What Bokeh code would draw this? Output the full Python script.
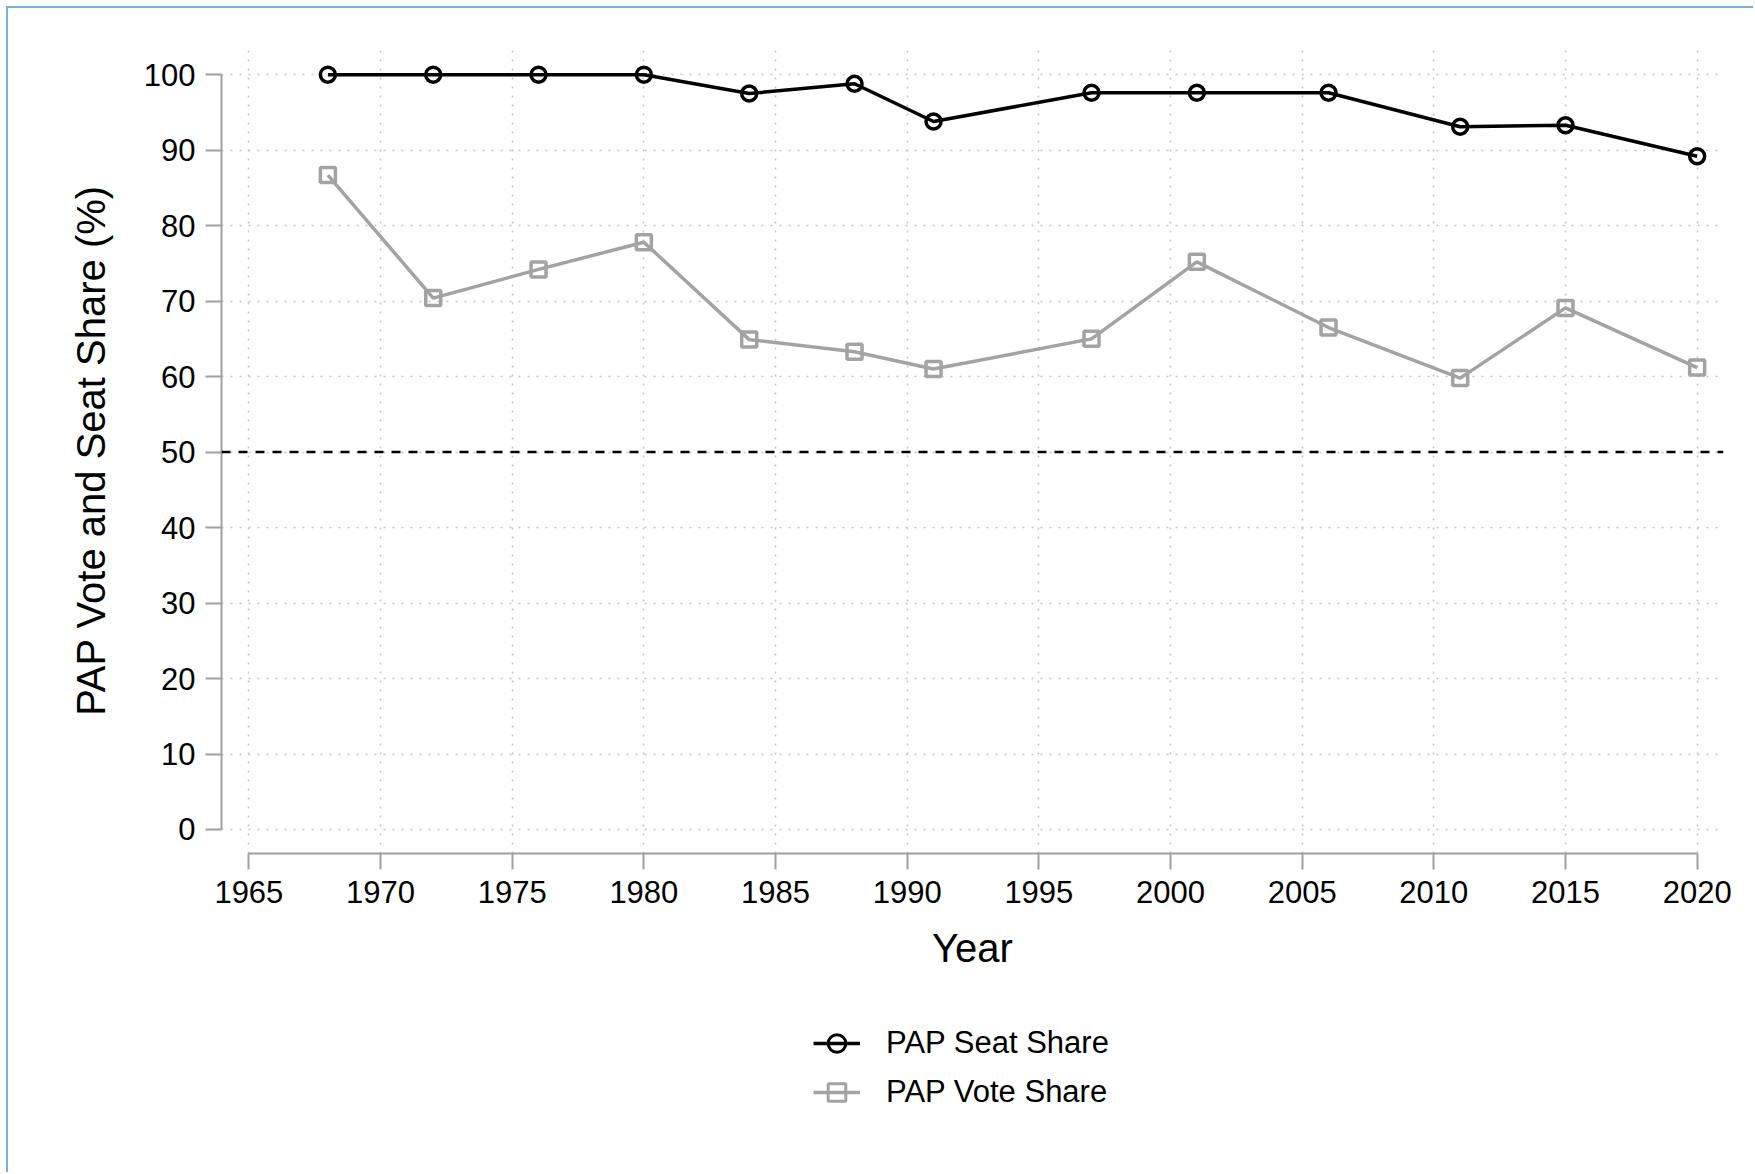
from bokeh.plotting import figure
from bokeh.layouts import column
from bokeh.models import Span, Legend, LegendItem, FixedTicker, Range1d
from bokeh.embed import file_html
from bokeh.resources import INLINE

# ---- data ----
years = [1968, 1972, 1976, 1980, 1984, 1988, 1991, 1997, 2001, 2006, 2011, 2015, 2020]
seat_share = [100, 100, 100, 100, 97.5, 98.8, 93.8, 97.6, 97.6, 97.6, 93.1, 93.3, 89.2]
vote_share = [86.7, 70.4, 74.2, 77.8, 64.9, 63.3, 61.0, 65.0, 75.2, 66.5, 59.8, 69.1, 61.2]
x_ticks = [1965, 1970, 1975, 1980, 1985, 1990, 1995, 2000, 2005, 2010, 2015, 2020]
y_ticks = [0, 10, 20, 30, 40, 50, 60, 70, 80, 90, 100]
majority_line = 50
series_names = ["PAP Seat Share", "PAP Vote Share"]

FONT = "Liberation Sans"
GREY_AXIS = "#a0a0a0"
SEAT_COLOR = "#000000"
VOTE_COLOR = "#a3a3a3"
LW = 3.5
MSIZE = 15

p = figure(
    width=1747, height=985,
    output_backend="svg", toolbar_location=None,
    x_range=Range1d(1963.96, 2021.0), y_range=Range1d(-3.18, 103.6),
    min_border_left=213, min_border_right=32, min_border_top=39, min_border_bottom=140,
)
p.outline_line_color = None
p.background_fill_color = "white"
p.border_fill_color = "white"

# grids
for g in (p.xgrid, p.ygrid):
    g.grid_line_color = "#c4c4c4"
    g.grid_line_dash = "2 7"
    g.grid_line_width = 1.5

# axes
p.xaxis.ticker = FixedTicker(ticks=x_ticks)
p.yaxis.ticker = FixedTicker(ticks=y_ticks)
p.xaxis.bounds = (x_ticks[0], x_ticks[-1])
p.yaxis.bounds = (y_ticks[0], y_ticks[-1])
for ax in (p.xaxis, p.yaxis):
    ax.axis_line_color = GREY_AXIS
    ax.axis_line_width = 2
    ax.major_tick_line_color = GREY_AXIS
    ax.major_tick_line_width = 2
    ax.major_tick_in = 0
    ax.major_tick_out = 16
    ax.minor_tick_line_color = None
    ax.major_label_text_font = FONT
    ax.major_label_text_font_size = "31px"
    ax.major_label_text_color = "black"
    ax.axis_label_text_font = FONT
    ax.axis_label_text_font_size = "40px"
    ax.axis_label_text_font_style = "normal"
    ax.axis_label_text_color = "black"
p.xaxis.axis_label = "Year"
p.yaxis.axis_label = "PAP Vote and Seat Share (%)"
p.xaxis.major_label_standoff = 11
p.yaxis.major_label_standoff = 10
p.xaxis.axis_label_standoff = 20
p.yaxis.axis_label_standoff = 28

# reference line at 50%
p.add_layout(Span(location=majority_line, dimension="width", line_color="black",
                  line_width=2.5, line_dash="9 8"))

# series
p.line(years, seat_share, line_color=SEAT_COLOR, line_width=LW)
p.scatter(years, seat_share, marker="circle", size=MSIZE, fill_color=None,
          line_color=SEAT_COLOR, line_width=LW)
p.line(years, vote_share, line_color=VOTE_COLOR, line_width=LW)
p.scatter(years, vote_share, marker="square", size=MSIZE, fill_color=None,
          line_color=VOTE_COLOR, line_width=LW)

# ---- legend strip below the chart (its renderers lie outside its view) ----
leg = figure(
    width=1747, height=181, output_backend="svg", toolbar_location=None,
    x_range=Range1d(0, 1), y_range=Range1d(0, 1),
    x_axis_location=None, y_axis_location=None,
    min_border_left=0, min_border_right=0, min_border_top=0, min_border_bottom=0,
)
leg.outline_line_color = None
leg.xgrid.visible = False
leg.ygrid.visible = False
leg.border_fill_color = "white"
k_seat_line = leg.line(years, seat_share, line_color=SEAT_COLOR, line_width=LW)
k_seat_pts = leg.scatter(years, seat_share, marker="circle", size=MSIZE, fill_color=None,
                         line_color=SEAT_COLOR, line_width=3)
k_vote_line = leg.line(years, vote_share, line_color=VOTE_COLOR, line_width=LW)
k_vote_pts = leg.scatter(years, vote_share, marker="square", size=MSIZE, fill_color=None,
                         line_color=VOTE_COLOR, line_width=3)

legend = Legend(
    items=[LegendItem(label=series_names[0], renderers=[k_seat_line, k_seat_pts]),
           LegendItem(label=series_names[1], renderers=[k_vote_line, k_vote_pts])],
    location=(592, 60), orientation="vertical",
    label_text_font=FONT, label_text_font_size="31px", label_text_color="black",
    glyph_width=47, glyph_height=44, label_standoff=26, spacing=5,
    padding=0, margin=0, border_line_color=None, background_fill_alpha=0,
)
leg.add_layout(legend, "center")

layout = column(p, leg, spacing=0)
layout.styles = {"position": "relative", "left": "8px", "top": "8px",
                 "box-shadow": "-2px -2px 0 0 #7aaee0"}

open("out.html", "w").write(file_html(layout, INLINE))
